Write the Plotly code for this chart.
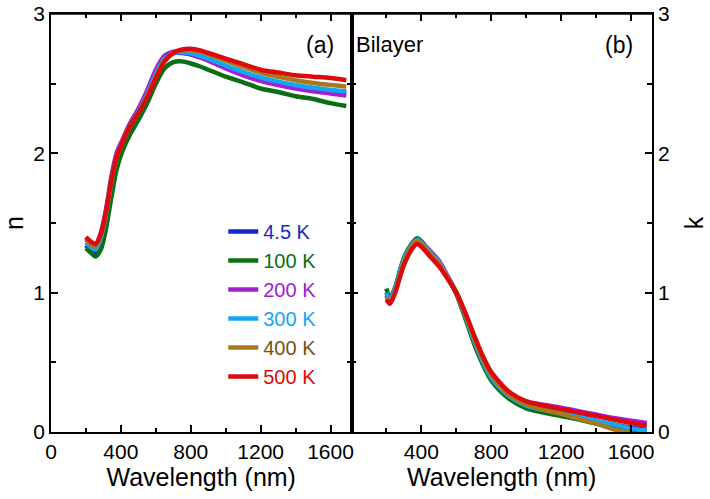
import plotly.graph_objects as go

# ---------------- data ----------------
temps = ["4.5 K", "100 K", "200 K", "300 K", "400 K", "500 K"]
colors = ["#1428c8", "#0a6e14", "#a020d2", "#14a5f5", "#a8781e", "#dc0a0a"]
text_colors = ["#1428c8", "#0a6e14", "#a020d2", "#14a5f5", "#785014", "#dc0a0a"]

wl_n = [200, 225, 255, 285, 315, 345, 375, 410, 450, 500, 550, 600, 650, 700,
        750, 800, 850, 900, 1000, 1100, 1200, 1300, 1400, 1500, 1600, 1690]
n_4p5 = [1.34, 1.31, 1.29, 1.37, 1.54, 1.77, 1.95, 2.07, 2.18, 2.29, 2.42, 2.57, 2.68, 2.72,
         2.72, 2.71, 2.69, 2.67, 2.62, 2.57, 2.535, 2.505, 2.48, 2.46, 2.445, 2.435]
n_100 = [1.32, 1.29, 1.26, 1.31, 1.46, 1.68, 1.88, 2.02, 2.13, 2.24, 2.36, 2.50, 2.61, 2.655,
         2.66, 2.645, 2.625, 2.60, 2.55, 2.51, 2.465, 2.44, 2.41, 2.39, 2.36, 2.34]
n_200 = [1.39, 1.36, 1.34, 1.43, 1.60, 1.83, 2.00, 2.10, 2.21, 2.32, 2.45, 2.60, 2.70, 2.73,
         2.725, 2.71, 2.69, 2.665, 2.61, 2.56, 2.52, 2.49, 2.465, 2.445, 2.43, 2.415]
n_300 = [1.36, 1.33, 1.31, 1.39, 1.56, 1.79, 1.97, 2.08, 2.19, 2.30, 2.42, 2.57, 2.68, 2.72,
         2.725, 2.72, 2.70, 2.68, 2.63, 2.585, 2.545, 2.515, 2.49, 2.47, 2.455, 2.445]
n_400 = [1.38, 1.35, 1.33, 1.41, 1.57, 1.80, 1.97, 2.08, 2.19, 2.29, 2.41, 2.55, 2.67, 2.72,
         2.74, 2.74, 2.73, 2.71, 2.665, 2.62, 2.58, 2.55, 2.525, 2.505, 2.49, 2.48]
n_500 = [1.40, 1.37, 1.35, 1.42, 1.58, 1.80, 1.97, 2.08, 2.19, 2.29, 2.40, 2.54, 2.66, 2.72,
         2.745, 2.75, 2.74, 2.72, 2.68, 2.64, 2.60, 2.58, 2.56, 2.55, 2.54, 2.525]

wl_k = [200, 220, 250, 300, 350, 375, 400, 450, 500, 550, 600, 650, 700, 750,
        800, 900, 1000, 1100, 1200, 1300, 1400, 1500, 1600, 1690]
k_4p5 = [1.00, 0.95, 1.03, 1.24, 1.35, 1.38, 1.36, 1.29, 1.22, 1.11, 1.00, 0.84, 0.66, 0.51,
         0.39, 0.26, 0.19, 0.16, 0.135, 0.11, 0.08, 0.055, 0.03, 0.015]
k_100 = [1.03, 0.96, 1.04, 1.25, 1.36, 1.39, 1.37, 1.29, 1.21, 1.11, 0.99, 0.82, 0.64, 0.49,
         0.37, 0.24, 0.17, 0.14, 0.115, 0.09, 0.06, 0.035, 0.01, -0.01]
k_200 = [0.98, 0.94, 1.02, 1.23, 1.35, 1.38, 1.36, 1.30, 1.23, 1.12, 1.00, 0.85, 0.68, 0.53,
         0.41, 0.28, 0.22, 0.195, 0.175, 0.15, 0.125, 0.10, 0.08, 0.065]
k_300 = [1.00, 0.95, 1.03, 1.24, 1.35, 1.38, 1.36, 1.29, 1.22, 1.11, 1.00, 0.84, 0.66, 0.51,
         0.39, 0.26, 0.19, 0.16, 0.135, 0.11, 0.08, 0.055, 0.025, 0.01]
k_400 = [0.97, 0.93, 1.01, 1.22, 1.34, 1.37, 1.35, 1.28, 1.21, 1.11, 1.00, 0.85, 0.68, 0.53,
         0.41, 0.27, 0.20, 0.16, 0.13, 0.095, 0.06, 0.02, -0.01, -0.04]
k_500 = [0.95, 0.92, 1.00, 1.20, 1.32, 1.35, 1.33, 1.26, 1.19, 1.10, 1.00, 0.86, 0.70, 0.55,
         0.43, 0.29, 0.22, 0.19, 0.165, 0.14, 0.115, 0.09, 0.065, 0.045]

n_series = [n_4p5, n_100, n_200, n_300, n_400, n_500]
k_series = [k_4p5, k_100, k_200, k_300, k_400, k_500]

x_ticks_a = [0, 400, 800, 1200, 1600]
x_ticks_b = [400, 800, 1200, 1600]
y_ticks = [0, 1, 2, 3]

FONT = "Liberation Sans, Arial, sans-serif"

fig = go.Figure()
for i, t in enumerate(temps):
    fig.add_trace(go.Scatter(
        x=wl_n, y=n_series[i], mode="lines",
        line=dict(color=colors[i], width=4.5, shape="spline", smoothing=0.8),
        name=f'<span style="color:{text_colors[i]}">{t}</span>',
        xaxis="x", yaxis="y", legendgroup=t, showlegend=True))
for i, t in enumerate(temps):
    fig.add_trace(go.Scatter(
        x=wl_k, y=k_series[i], mode="lines",
        line=dict(color=colors[i], width=4.5, shape="spline", smoothing=0.8),
        name=t, xaxis="x2", yaxis="y2", legendgroup=t, showlegend=False))

base = dict(
    showline=True, linecolor="black", linewidth=1.5,
    ticks="inside", ticklen=7, tickwidth=1.5, tickcolor="black",
    showgrid=False, zeroline=False, automargin=False,
    tickfont=dict(family=FONT, size=21, color="black"),
)
title_font = dict(family=FONT, size=25, color="black")
x_minor = dict(dtick=200, tick0=0, ticks="inside", ticklen=4, tickwidth=1.5, tickcolor="black")
y_minor = dict(dtick=0.5, tick0=0, ticks="inside", ticklen=5, tickwidth=1.5, tickcolor="black")

fig.update_layout(
    width=710, height=499,
    margin=dict(l=51, r=58, t=14, b=67),
    paper_bgcolor="white", plot_bgcolor="white",
    font=dict(family=FONT, color="black"),
    xaxis=dict(domain=[0, 0.5], range=[0, 1720], tickvals=x_ticks_a, minor=x_minor,
               mirror="ticks",
               title=dict(text="Wavelength (nm)", font=title_font, standoff=2),
               anchor="y", **base),
    yaxis=dict(range=[0, 3], tickvals=y_ticks, minor=y_minor, mirror="ticks",
               title=dict(text="n", font=title_font, standoff=4),
               anchor="x", **base),
    xaxis2=dict(domain=[0.5, 1], range=[0, 1720], tickvals=x_ticks_b, minor=x_minor,
                mirror="ticks",
                title=dict(text="Wavelength (nm)", font=title_font, standoff=2),
                anchor="y2", **base),
    yaxis2=dict(range=[0, 3], tickvals=y_ticks, side="right", minor=y_minor, mirror="ticks",
                title=dict(text="k", font=title_font, standoff=17),
                anchor="x2", **base),
    legend=dict(x=0.2866, y=0.5265, xanchor="left", yanchor="top",
                bgcolor="rgba(0,0,0,0)", borderwidth=0,
                font=dict(family=FONT, size=20), itemwidth=30,
                tracegroupgap=0),
    showlegend=True,
    shapes=[
        dict(type="line", xref="x domain", yref="y domain", x0=0, x1=1, y0=1, y1=1,
             line=dict(color="black", width=1.5), layer="above"),
        dict(type="line", xref="x2 domain", yref="y2 domain", x0=0, x1=1, y0=1, y1=1,
             line=dict(color="black", width=1.5), layer="above"),
    ],
    annotations=[
        dict(text="(a)", x=0.5, y=1, xref="paper", yref="paper", xanchor="right", yanchor="top",
             xshift=-16, yshift=-16, showarrow=False, font=dict(family=FONT, size=23)),
        dict(text="(b)", x=1, y=1, xref="paper", yref="paper", xanchor="right", yanchor="top",
             xshift=-17, yshift=-16, showarrow=False, font=dict(family=FONT, size=23)),
        dict(text="Bilayer", x=0.5, y=1, xref="paper", yref="paper", xanchor="left", yanchor="top",
             xshift=2, yshift=-16, showarrow=False, font=dict(family=FONT, size=22)),
    ],
)

# remove the browser's default 8 px page margin so the figure sits at the window's corner
fig.write_html("out.html", config={"displayModeBar": False},
               post_script="document.body.style.margin='0';")
